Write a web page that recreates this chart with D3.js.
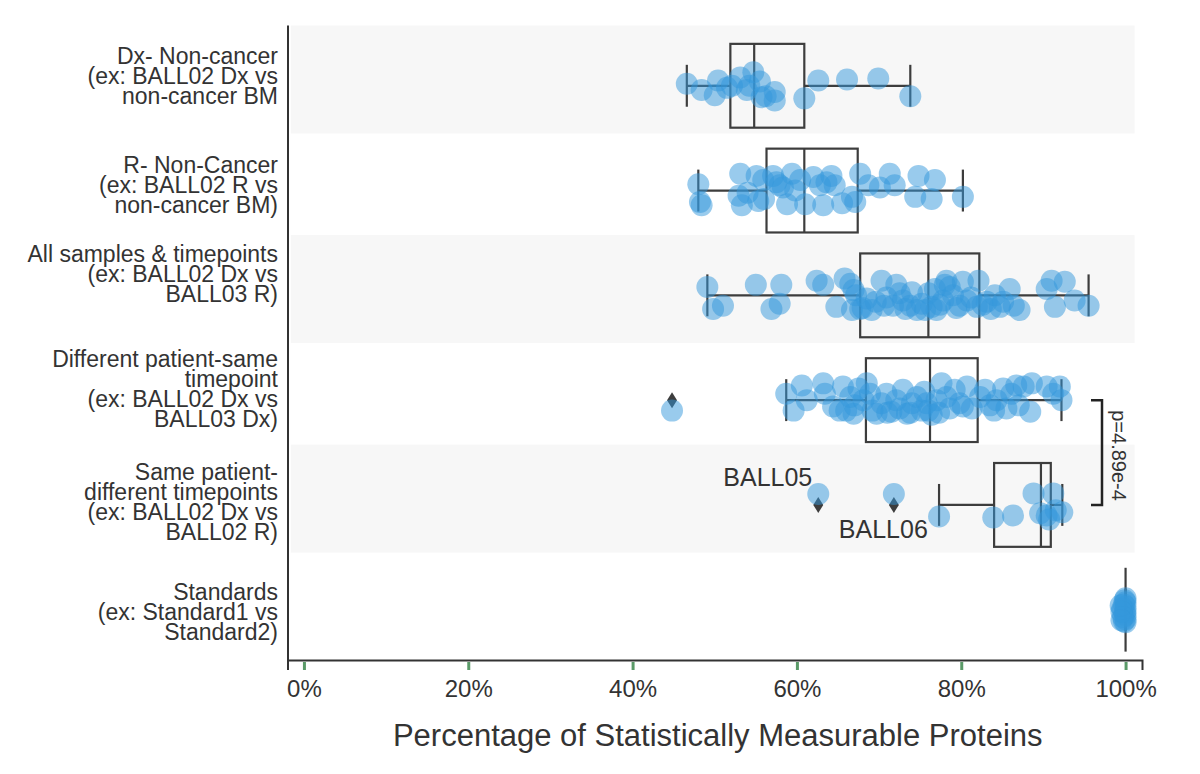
<!DOCTYPE html>
<html>
<head>
<meta charset="utf-8">
<script src="https://cdn.jsdelivr.net/npm/d3@7"></script>
<style>
  body { margin: 0; background: #fff; }
  svg text { font-family: "Liberation Sans", Arial, sans-serif; fill: #333; }
</style>
</head>
<body>
<div id="chart"></div>
<script>
/* data (values in %) */
var categories = [
  ["Dx- Non-cancer", "(ex: BALL02 Dx vs", "non-cancer BM"],
  ["R- Non-Cancer", "(ex: BALL02 R vs", "non-cancer BM)"],
  ["All samples & timepoints", "(ex: BALL02 Dx vs", "BALL03 R)"],
  ["Different patient-same", "timepoint", "(ex: BALL02 Dx vs", "BALL03 Dx)"],
  ["Same patient-", "different timepoints", "(ex: BALL02 Dx vs", "BALL02 R)"],
  ["Standards", "(ex: Standard1 vs", "Standard2)"]
];

// stripplot values and their jitter (in category units)
var dxValues = [46.6, 48.4, 50.0, 50.4, 51.5, 52.1, 53.1, 53.9, 54.2, 54.7, 55.5, 55.7, 56.2, 57.3, 57.3, 60.9, 62.6, 66.1, 69.9, 73.8];
var dxJitter = [-0.02, 0.04, 0.09, -0.05, 0.02, 0.0, -0.08, 0.04, 0.0, -0.13, -0.04, 0.11, 0.1, 0.06, 0.14, 0.12, -0.05, -0.06, -0.07, 0.10];

var rValues = [48.0, 48.2, 48.4, 53.1, 52.9, 53.3, 54.0, 55.1, 55.3, 55.9, 56.0, 57.1, 57.5, 57.9, 58.3, 58.8, 59.4, 59.8, 60.4, 61.0,
               62.0, 62.8, 63.2, 63.6, 64.2, 64.6, 65.5, 66.7, 67.1, 67.7, 68.7, 70.1, 71.3, 71.9, 74.4, 74.8, 76.4, 76.8, 80.2];
var rJitter = [-0.06, 0.11, 0.14, -0.16, 0.05, 0.14, 0.02, -0.14, 0.10, -0.10, 0.08, -0.14, -0.08, -0.05, -0.03, 0.13, -0.16, 0.0, -0.10, 0.13,
               -0.13, -0.05, 0.14, -0.08, -0.14, -0.05, 0.12, 0.06, 0.11, -0.16, -0.05, -0.03, -0.16, -0.05, 0.06, -0.14, 0.08, -0.10, 0.06];

var allValues = [49.1, 49.8, 51.0, 55.0, 56.9, 58.1, 57.9, 62.4, 63.2, 64.8, 65.8, 66.5, 66.9, 66.7, 67.2, 67.7, 68.0, 68.5, 69.1, 69.6,
                 70.3, 70.6, 70.9, 71.7, 72.1, 72.5, 72.9, 73.2, 73.8, 74.0, 74.6, 75.2, 75.6, 76.0, 76.4, 76.8, 77.0, 77.4, 77.8, 78.0,
                 78.2, 78.6, 79.0, 79.4, 79.8, 80.2, 80.7, 81.2, 82.1, 81.9, 82.6, 83.1, 83.6, 84.1, 84.7, 85.1, 85.9, 86.4, 87.1, 90.4,
                 91.0, 91.4, 92.6, 93.8, 95.5];
var allJitter = [-0.08, 0.13, 0.10, -0.10, 0.13, -0.10, 0.08, -0.14, -0.10, 0.11, -0.16, -0.11, -0.05, 0.14, 0.0, 0.13, 0.12, 0.03, 0.14, 0.06,
                 -0.14, 0.10, 0.02, 0.10, -0.10, -0.02, 0.05, 0.13, 0.10, -0.03, 0.14, 0.08, 0.14, -0.02, 0.11, -0.06, 0.14, 0.09, 0.05, -0.10,
                 -0.14, -0.08, 0.0, 0.12, 0.10, -0.13, 0.05, 0.02, -0.14, 0.11, 0.09, 0.06, 0.13, 0.0, 0.11, 0.06, -0.06, 0.10, 0.14, -0.06,
                 -0.14, 0.11, -0.13, 0.05, 0.10];

var diffValues = [44.8, 58.7, 59.6, 60.6, 61.2, 63.2, 63.4, 64.4, 65.2, 65.6, 66.0, 66.5, 66.9, 67.0, 67.5, 68.1, 68.5, 68.9, 69.2, 69.7,
                  70.3, 70.9, 71.0, 71.5, 72.1, 72.5, 72.9, 73.4, 73.8, 74.0, 74.6, 75.2, 75.5, 75.8, 76.0, 76.4, 77.0, 77.3, 77.6, 78.2,
                  78.6, 79.2, 79.8, 80.2, 80.7, 81.3, 82.3, 82.9, 83.5, 84.0, 84.3, 85.1, 85.5, 86.1, 86.7, 87.0, 87.6, 88.4, 88.6, 90.4,
                  91.2, 92.0, 92.2];
var diffJitter = [0.10, -0.06, 0.10, -0.14, 0.0, -0.16, -0.06, 0.06, 0.10, -0.13, 0.10, -0.03, 0.13, 0.05, -0.11, 0.0, -0.16, -0.06, 0.10, 0.13,
                  0.03, -0.06, 0.12, 0.11, 0.0, 0.08, -0.10, 0.13, 0.12, 0.03, -0.03, 0.10, -0.08, 0.03, 0.10, 0.14, 0.0, 0.12, -0.16, -0.03,
                  0.08, -0.10, 0.03, 0.06, -0.13, 0.08, -0.03, -0.10, 0.05, 0.10, 0.0, -0.11, 0.08, -0.06, -0.14, 0.05, -0.13, 0.11, -0.16, -0.13,
                  -0.06, -0.13, 0.0];

var sameValues = [62.6, 71.8, 77.3, 83.9, 86.3, 88.8, 89.6, 90.4, 90.7, 91.2, 91.5, 92.3];
var sameJitter = [-0.105, -0.105, 0.11, 0.12, 0.10, -0.11, 0.08, 0.10, 0.14, -0.11, 0.05, 0.07];

var stdValues = [100, 100, 100, 100, 100, 100, 100, 99.9, 99.9, 99.8, 99.8, 99.7, 99.6, 99.5, 99.4, 99.5];
var stdJitter = [-0.11, -0.07, -0.03, 0.01, 0.05, 0.09, 0.12, -0.09, 0.03, 0.11, -0.05, 0.07, -0.01, 0.02, -0.04, 0.10];

// box statistics per category
var whiskerLow  = [46.6, 48.0, 49.1, 58.7, 77.3, 100];
var q1Values    = [51.9, 56.3, 67.7, 68.4, 84.0, 100];
var medianVals  = [54.8, 60.9, 76.0, 76.2, 89.7, 100];
var q3Values    = [60.9, 67.4, 82.2, 82.0, 90.9, 100];
var whiskerHigh = [73.8, 80.2, 95.5, 92.2, 92.3, 100];

// outliers (fliers) drawn as diamonds
var flierRows   = [3, 4, 4];
var flierValues = [44.8, 62.6, 71.8];
var flierNames  = ["", "BALL05", "BALL06"];

var xTicks = [0, 20, 40, 60, 80, 100];
var pValueText = "p=4.89e-4";

/* layout */
var width = 1200, height = 774;

var svg = d3.select("#chart").append("svg")
            .attr("width", width)
            .attr("height", height);

var x = d3.scaleLinear().domain([-2, 102]).range([287.5, 1142]);
var y = d3.scaleLinear().domain([-0.58, 5.48]).range([25, 660]);
var step = y(1) - y(0);

// striped background bands
svg.selectAll("rect.band")
  .data([0, 2, 4])
  .enter()
  .append("rect")
  .attr("class", "band")
  .attr("x", x(-1.6))
  .attr("width", x(101.1) - x(-1.6))
  .attr("y", function(d) { return y(d - 0.575); })
  .attr("height", function(d) { return y(d + 0.455) - y(d - 0.575); })
  .attr("fill", "#f7f7f7");

// boxes
var boxColor = "#3d3d3d";
var boxes = svg.selectAll("g.box")
  .data(categories.map(function(c, i) { return i; }))
  .enter()
  .append("g")
  .attr("class", "box")
  .attr("fill", "none")
  .attr("stroke", boxColor)
  .attr("stroke-width", 2.2);

boxes.append("rect")
  .attr("x", function(i) { return x(q1Values[i]); })
  .attr("width", function(i) { return x(q3Values[i]) - x(q1Values[i]); })
  .attr("y", function(i) { return y(i - 0.4); })
  .attr("height", step * 0.8);

boxes.append("line")
  .attr("x1", function(i) { return x(medianVals[i]); })
  .attr("x2", function(i) { return x(medianVals[i]); })
  .attr("y1", function(i) { return y(i - 0.4); })
  .attr("y2", function(i) { return y(i + 0.4); });

// whiskers
boxes.append("line")
  .attr("x1", function(i) { return x(whiskerLow[i]); })
  .attr("x2", function(i) { return x(q1Values[i]); })
  .attr("y1", function(i) { return y(i); })
  .attr("y2", function(i) { return y(i); });
boxes.append("line")
  .attr("x1", function(i) { return x(q3Values[i]); })
  .attr("x2", function(i) { return x(whiskerHigh[i]); })
  .attr("y1", function(i) { return y(i); })
  .attr("y2", function(i) { return y(i); });

// caps
boxes.append("line")
  .attr("x1", function(i) { return x(whiskerLow[i]); })
  .attr("x2", function(i) { return x(whiskerLow[i]); })
  .attr("y1", function(i) { return y(i - 0.2); })
  .attr("y2", function(i) { return y(i + 0.2); });
boxes.append("line")
  .attr("x1", function(i) { return x(whiskerHigh[i]); })
  .attr("x2", function(i) { return x(whiskerHigh[i]); })
  .attr("y1", function(i) { return y(i - 0.2); })
  .attr("y2", function(i) { return y(i + 0.2); });

// fliers
var fliers = flierValues.map(function(v, i) {
  return { row: flierRows[i], value: v, name: flierNames[i] };
});
svg.selectAll("path.flier")
  .data(fliers)
  .enter()
  .append("path")
  .attr("class", "flier")
  .attr("d", function(d) {
    var cx = x(d.value), cy = y(d.row);
    return "M" + cx + "," + (cy - 8) + "L" + (cx + 5) + "," + cy +
           "L" + cx + "," + (cy + 8) + "L" + (cx - 5) + "," + cy + "Z";
  })
  .attr("fill", "#3d3d3d");

// jittered points
var series = [
  [dxValues, dxJitter], [rValues, rJitter], [allValues, allJitter],
  [diffValues, diffJitter], [sameValues, sameJitter], [stdValues, stdJitter]
];
var points = [];
series.forEach(function(s, row) {
  s[0].forEach(function(v, k) {
    points.push({ row: row, value: v, jitter: s[1][k] });
  });
});

svg.selectAll("circle.pt")
  .data(points)
  .enter()
  .append("circle")
  .attr("class", "pt")
  .attr("cx", function(d) { return x(d.value); })
  .attr("cy", function(d) { return y(d.row + d.jitter); })
  .attr("r", 11)
  .attr("fill", "#3498db")
  .attr("fill-opacity", 0.5);

// outlier names
svg.selectAll("text.flier-name")
  .data(fliers.filter(function(d) { return d.name; }))
  .enter()
  .append("text")
  .attr("class", "flier-name")
  .attr("x", function(d, i) { return i === 0 ? x(d.value) - 6 : x(d.value) - 55; })
  .attr("y", function(d, i) { return i === 0 ? y(d.row) - 19 : y(d.row) + 33; })
  .attr("text-anchor", function(d, i) { return i === 0 ? "end" : "start"; })
  .style("font-size", "25px")
  .text(function(d) { return d.name; });

// axes
var xAxis = d3.axisBottom(x)
  .tickValues(xTicks)
  .tickFormat(function(d) { return d + "%"; })
  .tickSizeOuter(0)
  .tickSize(10)
  .tickPadding(10);

var gx = svg.append("g")
  .attr("transform", "translate(0," + y(5.48) + ")")
  .call(xAxis);
gx.select(".domain").attr("stroke", "#333").attr("stroke-width", 2);
gx.selectAll(".tick line")
  .attr("y1", 2)
  .attr("stroke", "#5a9a68")
  .attr("stroke-width", 3);
gx.selectAll(".tick text")
  .style("font-size", "24px")
  .style("font-family", "'Liberation Sans', Arial, sans-serif")
  .attr("fill", "#333");

var gy = svg.append("g")
  .attr("transform", "translate(" + x(-2) + ",0)")
  .call(d3.axisLeft(y).tickValues([]).tickSizeOuter(0));
gy.select(".domain").attr("stroke", "#333").attr("stroke-width", 2);

// category labels (multi-line)
var labelTop = [-22, -18, -33, -33, -25, -9.5];
var labels = svg.selectAll("text.cat")
  .data(categories)
  .enter()
  .append("text")
  .attr("class", "cat")
  .attr("text-anchor", "end")
  .style("font-size", "23px");

labels.selectAll("tspan")
  .data(function(d, i) {
    return d.map(function(line, k) { return { line: line, row: i, k: k }; });
  })
  .enter()
  .append("tspan")
  .attr("x", 278)
  .attr("y", function(d) { return y(d.row) + labelTop[d.row] + d.k * 20; })
  .text(function(d) { return d.line; });

// axis title
svg.append("text")
  .attr("x", x(50) + 3)
  .attr("y", 746)
  .attr("text-anchor", "middle")
  .style("font-size", "31px")
  .text("Percentage of Statistically Measurable Proteins");

// significance bracket between rows 3 and 4
var bx = 1102;
svg.append("path")
  .attr("d", "M" + (bx - 11) + "," + y(3) + "H" + bx + "V" + y(4) + "H" + (bx - 11))
  .attr("fill", "none")
  .attr("stroke", "#222")
  .attr("stroke-width", 2.5);

svg.append("text")
  .attr("transform", "translate(" + (bx + 10) + "," + ((y(3) + y(4)) / 2 + 3) + ") rotate(90)")
  .attr("text-anchor", "middle")
  .style("font-size", "20px")
  .text(pValueText);
</script>
</body>
</html>
